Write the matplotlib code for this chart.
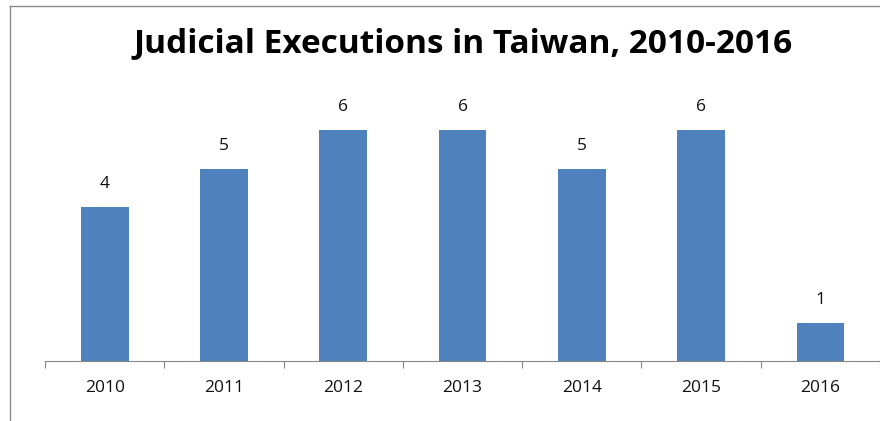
import matplotlib
matplotlib.use("Agg")
import matplotlib.pyplot as plt
from matplotlib.lines import Line2D

years = ["2010", "2011", "2012", "2013", "2014", "2015", "2016"]
executions = [4, 5, 6, 6, 5, 6, 1]

W, H = 880, 421
fig = plt.figure(figsize=(W / 100, H / 100), dpi=100)
plt.rcParams['font.family'] = ['Open Sans', 'DejaVu Sans']

left, right, base, top = 45, 880, 361, 80
ax = fig.add_axes([left / W, (H - base) / H, (right - left) / W, (base - top) / H])
x = list(range(len(years)))
ax.bar(x, executions, width=0.4, color="#4F81BD")
ax.set_xlim(-0.5, len(years) - 0.5)
ax.set_ylim(0, (base - top) / 38.5)
for xi, v in zip(x, executions):
    ax.text(xi, v + 23 / 38.5, str(v), ha="center", va="center", fontsize=12.5, color="#111111")

for s in ["top", "right", "left"]:
    ax.spines[s].set_visible(False)
ax.spines["bottom"].set_color("#868686")
ax.set_yticks([])
ax.set_xticks([i - 0.5 for i in range(len(years) + 1)], minor=False)
ax.set_xticklabels([])
ax.tick_params(axis="x", length=5, color="#868686", direction="out")
for xi, yl in zip(x, years):
    ax.text(xi, -27 / 38.5, yl, ha="center", va="center", fontsize=12.5, color="#111111")

fig.text(463 / W, 1 - 44 / H, "Judicial Executions in Taiwan, 2010-2016", ha="center", va="center",
         fontsize=24, fontweight="bold", color="#000000")

fig.add_artist(Line2D([10 / W, 10 / W], [0, 1 - 6 / H], color="#8a8a8a", lw=1, transform=fig.transFigure))
fig.add_artist(Line2D([10 / W, 1], [1 - 6 / H, 1 - 6 / H], color="#8a8a8a", lw=1, transform=fig.transFigure))

fig.savefig("out.png", dpi=100)
